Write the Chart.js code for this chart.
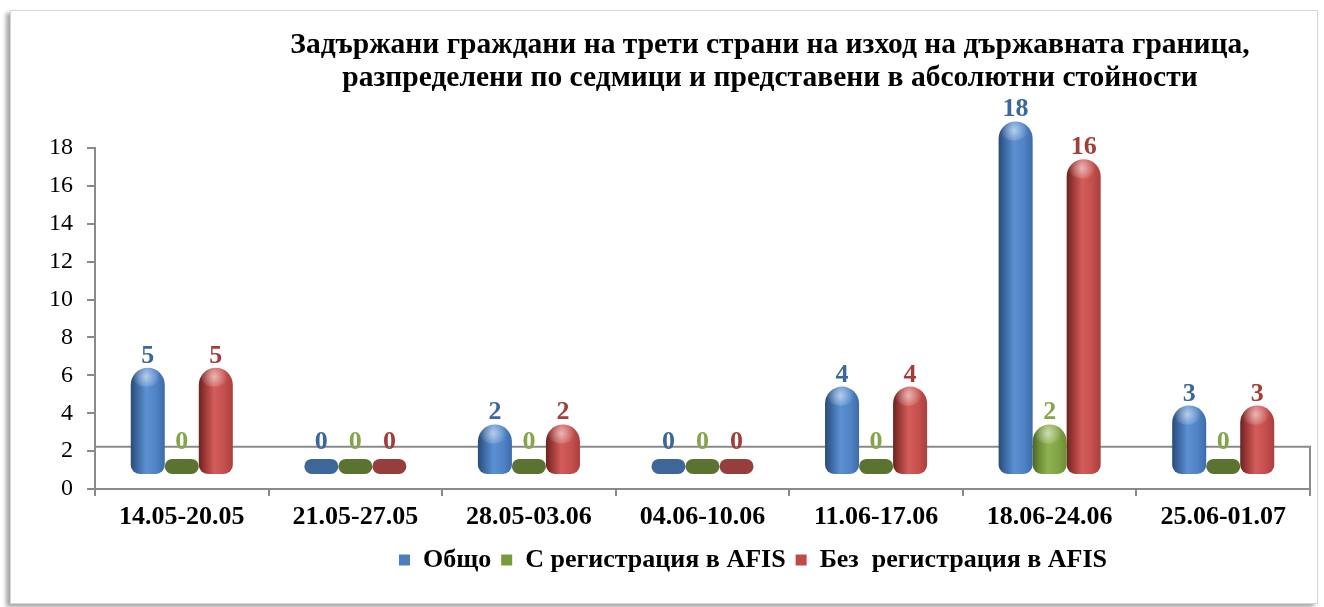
<!DOCTYPE html>
<html><head><meta charset="utf-8">
<script src="https://cdn.jsdelivr.net/npm/chart.js@4.4.1/dist/chart.umd.min.js"></script>
<style>
html,body{margin:0;padding:0;background:#fff;overflow:hidden}
#frame{position:absolute;left:10px;top:10px;width:1306px;height:592px;border:1px solid #d6d6d6;box-shadow:-4px 3px 4px rgba(0,0,0,.35);background:#fff}
#wrap{position:absolute;left:0;top:0;width:1324px;height:607px}
</style></head><body>
<div id="frame"></div>
<div id="wrap"><canvas id="c" width="1324" height="607"></canvas></div>
<script>
// ---- data ----
const categories = ['14.05-20.05','21.05-27.05','28.05-03.06','04.06-10.06','11.06-17.06','18.06-24.06','25.06-01.07'];
const total = [5, 0, 2, 0, 4, 18, 3];
const withAfis = [0, 0, 0, 0, 0, 2, 0];
const withoutAfis = [5, 0, 2, 0, 4, 16, 3];
const seriesNames = ['Общо', 'С регистрация в AFIS', 'Без  регистрация в AFIS'];
const yTicks = [0, 2, 4, 6, 8, 10, 12, 14, 16, 18];
const titleLines = ['Задържани граждани на трети страни на изход на държавната граница,',
                    'разпределени по седмици и представени в абсолютни стойности'];

// ---- style ----
const FONT = "'Liberation Serif', 'Times New Roman', serif";
const AXIS = '#8a8a8a';
const BASE_COLORS = ['#4a7ebb', '#7a9a3c', '#be4b48'];
const FLAT_COLORS = ['#3f6699', '#5b7331', '#953f3d'];
const LABEL_COLORS = ['#3b679e', '#86a54a', '#a23d3a'];
const GRADS = [
  ['#2a4b78', '#3b67a0', '#5b90d2', '#4f83c6', '#3d6ba8'],
  ['#4c6524', '#6a8a34', '#8fb250', '#82a445', '#6c8c37'],
  ['#6a2321', '#9c3835', '#d25d5a', '#c44f4c', '#a8403d']
];
const DEPTH = 1.407;     // 3D shift of the bars (value units)
const BAR_BASE = -0.61;  // base of cylinders on the shifted axis
const FLOOR = 2.23;      // back edge of the floor on the visible axis
const TITLE_DX = 115, LEGEND_DX = 98;

Chart.defaults.font.family = FONT;

const cylinderPlugin = {
  id: 'cylinder',
  afterLayout(chart) {
    const t = chart.titleBlock; if (t) { t.left += TITLE_DX; t.right += TITLE_DX; }
    const l = chart.legend; if (l) { l.left += LEGEND_DX; l.right += LEGEND_DX; }
  },
  beforeDatasetsDraw(chart) {
    const ctx = chart.ctx, ca = chart.chartArea;
    const fy = chart.scales.y.getPixelForValue(FLOOR);
    ctx.save();
    ctx.strokeStyle = AXIS; ctx.lineWidth = 2;
    ctx.beginPath();
    ctx.moveTo(ca.left, fy); ctx.lineTo(ca.right, fy); ctx.lineTo(ca.right, ca.bottom);
    ctx.stroke();
    ctx.restore();
    chart.data.datasets.forEach((ds, di) => {
      chart.getDatasetMeta(di).data.forEach((el, i) => {
        let fill;
        if (ds.data[i] === 0) fill = FLAT_COLORS[di];
        else {
          const g = ctx.createLinearGradient(el.x - el.width / 2, 0, el.x + el.width / 2, 0);
          const s = GRADS[di];
          g.addColorStop(0, s[0]); g.addColorStop(0.18, s[1]); g.addColorStop(0.45, s[2]);
          g.addColorStop(0.75, s[3]); g.addColorStop(1, s[4]);
          fill = g;
        }
        el.options = Object.assign({}, el.options, { backgroundColor: fill });
      });
    });
  },
  afterDatasetsDraw(chart) {
    const ctx = chart.ctx;
    ctx.save();
    chart.data.datasets.forEach((ds, di) => {
      chart.getDatasetMeta(di).data.forEach((el, i) => {
        const v = ds.data[i];
        const top = Math.min(el.y, el.base);
        if (v !== 0) {
          const cx = el.x - el.width * 0.05, cy = top + 9;
          const r = ctx.createRadialGradient(cx, cy, 0, cx, cy, el.width * 0.4);
          r.addColorStop(0, 'rgba(255,255,255,0.55)');
          r.addColorStop(1, 'rgba(255,255,255,0)');
          ctx.fillStyle = r;
          ctx.beginPath(); ctx.ellipse(cx, cy, el.width * 0.4, el.width * 0.3, 0, 0, Math.PI * 2); ctx.fill();
        }
        ctx.fillStyle = LABEL_COLORS[di];
        ctx.font = "bold 26px " + FONT;
        ctx.textAlign = 'center'; ctx.textBaseline = 'alphabetic';
        const ly = v === 0 ? el.base - 25 : top - 5;
        ctx.fillText(String(v), el.x, ly);
      });
    });
    ctx.restore();
  }
};

const mk = (label, data, i) => ({
  label, data, yAxisID: 'y2', base: BAR_BASE, clip: false,
  backgroundColor: BASE_COLORS[i], borderWidth: 0,
  borderRadius: { topLeft: 17, topRight: 17, bottomLeft: 9, bottomRight: 9 },
  borderSkipped: false, minBarLength: 15,
  barPercentage: 1, categoryPercentage: 0.588
});

new Chart(document.getElementById('c'), {
  type: 'bar',
  data: {
    labels: categories,
    datasets: [mk(seriesNames[0], total, 0), mk(seriesNames[1], withAfis, 1), mk(seriesNames[2], withoutAfis, 2)]
  },
  options: {
    responsive: false, animation: false, devicePixelRatio: 1,
    layout: { padding: { left: 0, right: 14, top: 0, bottom: 24 } },
    plugins: {
      title: {
        display: true, text: titleLines, color: '#000',
        font: { family: FONT, size: 29.5, weight: 'bold', lineHeight: 1.12 },
        padding: { top: 28.5, bottom: 53.5 }
      },
      legend: {
        position: 'bottom',
        labels: { color: '#000', font: { family: FONT, size: 26, weight: 'bold' }, boxWidth: 11, boxHeight: 11, padding: 10 }
      },
      tooltip: { enabled: false }
    },
    scales: {
      x: {
        ticks: { color: '#000', font: { family: FONT, size: 26, weight: 'bold' }, padding: 6, maxRotation: 0 },
        grid: { offset: true, drawOnChartArea: false, tickLength: 7, color: AXIS, lineWidth: 2 },
        border: { display: true, color: AXIS, width: 2 },
        afterFit(s) { s.height = 48; }
      },
      y: {
        min: 0, max: 18,
        afterBuildTicks(s) { s.ticks = yTicks.map(v => ({ value: v })); },
        ticks: { color: '#000', font: { family: FONT, size: 24 }, padding: 14 },
        grid: { drawOnChartArea: false, tickLength: 8, color: AXIS, lineWidth: 2 },
        border: { display: true, color: AXIS, width: 2 },
        afterFit(s) { s.width = 95; }
      },
      y2: { display: false, min: -DEPTH, max: 18 - DEPTH }
    }
  },
  plugins: [cylinderPlugin]
});
</script>
</body></html>
